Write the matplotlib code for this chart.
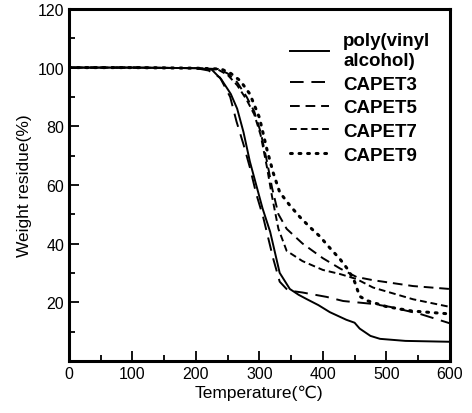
import numpy as np
import matplotlib.pyplot as plt
from matplotlib.ticker import MultipleLocator

plt.rcParams['font.family'] = ['Liberation Sans', 'DejaVu Sans']

# TGA curves (temperature in C, weight residue in %)
t_pva = [0, 100, 200, 225, 240, 255, 265, 275, 285, 295, 305, 317, 332, 348,
         362, 375, 393, 411, 437, 450, 458, 475, 490, 530, 600]
w_pva = [100, 100, 99.8, 99.3, 96, 91, 86, 78, 68, 60, 52, 44, 30, 24.5,
         22.5, 21, 19, 16.6, 14, 13, 11, 8.5, 7.5, 6.8, 6.5]

t_c3 = [0, 100, 200, 220, 238, 254, 264, 275, 285, 295, 306, 322, 332, 345,
        368, 406, 432, 479, 506, 553, 600]
w_c3 = [100, 100, 99.8, 99, 96.6, 90, 81.6, 73.8, 66, 57, 49, 34.7, 27, 24,
        23.3, 21.8, 20.4, 19.4, 18.4, 16, 12.8]

t_c5 = [0, 100, 200, 235, 250, 265, 280, 292, 302, 312, 320, 330, 343, 368,
        400, 427, 453, 479, 542, 600]
w_c5 = [100, 100, 99.8, 99.5, 98, 95, 90, 85, 78, 68, 59, 50, 45, 40,
        35, 31.5, 28.6, 27.5, 25.5, 24.5]

t_c7 = [0, 100, 200, 235, 250, 265, 280, 292, 302, 312, 320, 330, 343, 368,
        400, 427, 453, 479, 542, 600]
w_c7 = [100, 100, 99.8, 99.3, 97.5, 94, 89, 84, 77, 66, 56, 45, 37.5, 34,
        31, 29.6, 27.9, 25, 21, 18.4]

t_c9 = [0, 100, 200, 240, 255, 270, 285, 300, 312, 322, 332, 348, 364, 380,
        395, 411, 427, 440, 450, 458, 470, 500, 540, 600]
w_c9 = [100, 100, 99.8, 99.5, 98, 95.5, 91, 83, 72, 64, 57.5, 53, 49, 45.5,
        42.5, 38.5, 34.7, 31, 27, 22, 20.5, 18.5, 17, 16]

labels = ['poly(vinyl\nalcohol)', 'CAPET3', 'CAPET5', 'CAPET7', 'CAPET9']

fig = plt.figure(figsize=(4.72, 4.14), dpi=100)
ax = fig.add_axes([0.146, 0.126, 0.807, 0.85])

ax.plot(t_pva, w_pva, color='k', lw=1.4, label=labels[0])
ax.plot(t_c3, w_c3, color='k', lw=1.4, ls=(0, (7, 4)), label=labels[1])
ax.plot(t_c5, w_c5, color='k', lw=1.4, ls=(0, (5, 3)), label=labels[2])
ax.plot(t_c7, w_c7, color='k', lw=1.4, ls=(0, (3.5, 2)), label=labels[3])
ax.plot(t_c9, w_c9, color='k', lw=2.2, ls=(0, (0.6, 2.2)),
        dash_capstyle='round', label=labels[4])

ax.set_xlim(0, 600)
ax.set_ylim(0, 120)
ax.xaxis.set_major_locator(MultipleLocator(100))
ax.xaxis.set_minor_locator(MultipleLocator(50))
ax.set_yticks([20, 40, 60, 80, 100, 120])
ax.yaxis.set_minor_locator(MultipleLocator(10))
ax.tick_params(which='both', direction='in', width=1.3, labelsize=11.5)
ax.tick_params(which='major', length=7)
ax.tick_params(which='minor', length=4)
for s in ax.spines.values():
    s.set_linewidth(2.2)

ax.set_xlabel('Temperature(℃)', fontsize=12.5, labelpad=3)
ax.set_ylabel('Weight residue(%)', fontsize=12.5)

leg = ax.legend(loc='upper left', frameon=False, handlelength=2.1,
                handletextpad=0.75, prop={'weight': 'bold', 'size': 13.5},
                labelspacing=0.35, borderaxespad=0,
                bbox_to_anchor=(0.56, 0.955))

fig.savefig('out.png', dpi=100)
